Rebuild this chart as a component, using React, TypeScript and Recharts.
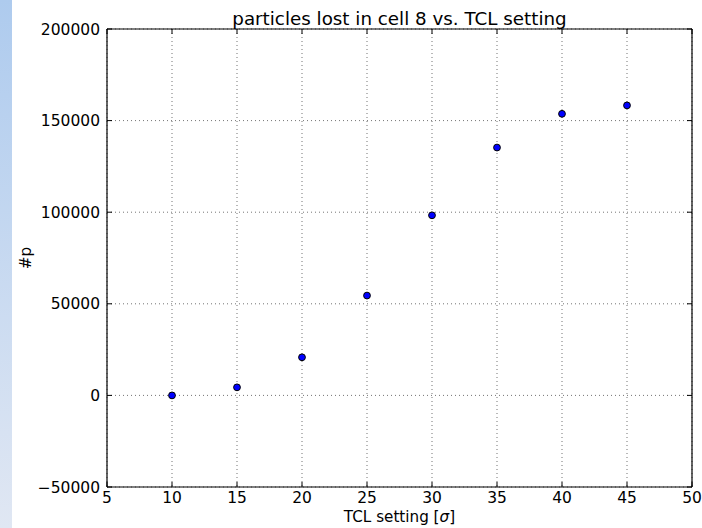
import React from 'react'
import { ScatterChart, Scatter, XAxis, YAxis, CartesianGrid, Label } from 'recharts'

// TCL setting (sigma) vs particles lost in cell 8
const tclSetting = [10, 15, 20, 25, 30, 35, 40, 45]
const particlesLost = [0, 4400, 20800, 54500, 98300, 135300, 153700, 158300]

const xTicks = [5, 10, 15, 20, 25, 30, 35, 40, 45, 50]
const yTicks = [-50000, 0, 50000, 100000, 150000, 200000]

const FONT = '"DejaVu Sans", sans-serif'

const data = tclSetting.map((x, i) => ({ x, y: particlesLost[i] }))

const fmtY = (v: number) => (v < 0 ? '\u2212' + Math.abs(v) : String(v))

const Dot = (props: any) => {
  const { cx, cy } = props
  if (cx == null || cy == null) return null
  return <circle cx={cx} cy={cy} r={3.4} fill="#0000ff" stroke="#000" strokeWidth={1} />
}

const TitleLabel = (props: any) => {
  const vb = props.viewBox || {}
  return (
    <text x={vb.x + vb.width / 2} y={25} textAnchor="middle" fontFamily={FONT} fontSize={18.3} fill="#000">
      particles lost in cell 8 vs. TCL setting
    </text>
  )
}

const XLabel = (props: any) => {
  const vb = props.viewBox || {}
  return (
    <text x={vb.x + vb.width / 2} y={522} textAnchor="middle" fontFamily={FONT} fontSize={15.2} fill="#000">
      TCL setting [<tspan fontStyle="italic">σ</tspan>]
    </text>
  )
}

const YLabel = (props: any) => {
  const vb = props.viewBox || {}
  const cy = vb.y + vb.height / 2
  return (
    <text x={31} y={cy} textAnchor="middle" fontFamily={FONT} fontSize={15.2} fill="#000" transform={`rotate(-90 31 ${cy})`}>
      #p
    </text>
  )
}

const tickStyle = { fontFamily: FONT, fontSize: 15.5, fill: '#000' }
const axisLine = { stroke: '#000', strokeWidth: 1.2 }
const tickLine = { stroke: '#000', strokeWidth: 1 }

export default function App() {
  return (
    <div style={{ position: 'absolute', left: 0, top: 0, width: 702, height: 528, background: '#fff' }}>
      <div
        style={{
          position: 'absolute',
          left: 0,
          top: 0,
          width: 12,
          height: 528,
          background: 'linear-gradient(#aecbee, #e0e7f3)',
        }}
      />
      <ScatterChart width={702} height={528} margin={{ top: 28, right: 9, bottom: 0, left: 0 }}>
        <CartesianGrid
          xAxisId="bottom"
          yAxisId="left"
          stroke="#000"
          strokeOpacity={0.55}
          strokeDasharray="1 3"
        />
        <XAxis
          xAxisId="bottom"
          type="number"
          dataKey="x"
          domain={[5, 50]}
          ticks={xTicks}
          allowDataOverflow
          height={41}
          tick={tickStyle}
          tickSize={-5}
          tickMargin={10}
          axisLine={axisLine}
          tickLine={tickLine}
          label={<Label content={XLabel} />}
        />
        <XAxis
          xAxisId="top"
          orientation="top"
          type="number"
          dataKey="x"
          domain={[5, 50]}
          ticks={xTicks}
          allowDataOverflow
          height={1}
          tickFormatter={() => ''}
          tickSize={-5}
          axisLine={axisLine}
          tickLine={tickLine}
          label={<Label content={TitleLabel} />}
        />
        <YAxis
          yAxisId="left"
          type="number"
          dataKey="y"
          domain={[-50000, 200000]}
          ticks={yTicks}
          allowDataOverflow
          width={107}
          tick={tickStyle}
          tickFormatter={fmtY}
          tickSize={-5}
          tickMargin={12}
          axisLine={axisLine}
          tickLine={tickLine}
          label={<Label content={YLabel} />}
        />
        <YAxis
          yAxisId="right"
          orientation="right"
          type="number"
          dataKey="y"
          domain={[-50000, 200000]}
          ticks={yTicks}
          allowDataOverflow
          width={1}
          tickFormatter={() => ''}
          tickSize={-5}
          axisLine={axisLine}
          tickLine={tickLine}
        />
        <Scatter
          data={data}
          xAxisId="bottom"
          yAxisId="left"
          shape={Dot}
          isAnimationActive={false}
        />
        <Scatter
          data={data}
          xAxisId="top"
          yAxisId="right"
          shape={() => <g />}
          isAnimationActive={false}
        />
      </ScatterChart>
    </div>
  )
}
